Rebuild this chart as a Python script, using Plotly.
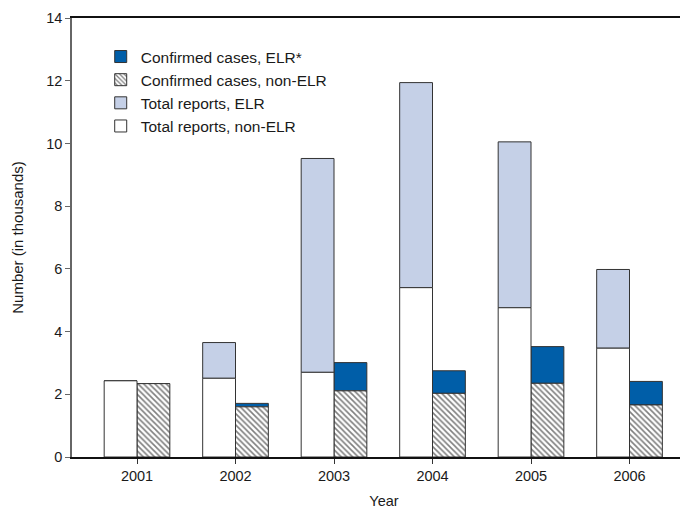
import plotly.graph_objects as go

years = ["2001", "2002", "2003", "2004", "2005", "2006"]
# values in thousands
total_non_elr = [2.43, 2.51, 2.70, 5.40, 4.76, 3.47]
total_elr = [0.00, 1.14, 6.82, 6.54, 5.29, 2.51]
confirmed_non_elr = [2.34, 1.60, 2.11, 2.03, 2.35, 1.66]
confirmed_elr = [0.00, 0.11, 0.90, 0.72, 1.17, 0.75]

idx = list(range(len(years)))
line = dict(color="#333333", width=1)
W = 1 / 3

fig = go.Figure()
fig.add_trace(go.Bar(
    x=idx, y=confirmed_elr, base=confirmed_non_elr, width=W, offset=0,
    name="Confirmed cases, ELR*",
    marker=dict(color="#005EA8", line=line), legendrank=1))
fig.add_trace(go.Bar(
    x=idx, y=confirmed_non_elr, base=[0] * len(idx), width=W, offset=0,
    name="Confirmed cases, non-ELR",
    marker=dict(color="white", line=line,
                pattern=dict(shape="\\", size=4, solidity=0.4,
                             fgcolor="#000000", bgcolor="white")),
    legendrank=2))
fig.add_trace(go.Bar(
    x=idx, y=total_elr, base=total_non_elr, width=W, offset=-W,
    name="Total reports, ELR",
    marker=dict(color="#C5D0E7", line=line), legendrank=3))
fig.add_trace(go.Bar(
    x=idx, y=total_non_elr, base=[0] * len(idx), width=W, offset=-W,
    name="Total reports, non-ELR",
    marker=dict(color="white", line=line), legendrank=4))

font = dict(family="Liberation Sans, Arial, sans-serif", size=14, color="#1a1a1a")

fig.update_layout(
    width=688, height=516,
    margin=dict(l=64, r=0, t=10, b=67, autoexpand=False),
    barmode="overlay",
    paper_bgcolor="white", plot_bgcolor="white",
    font=font,
    showlegend=True,
    legend=dict(x=0.046, y=0.95, xanchor="left", yanchor="top",
                bgcolor="rgba(0,0,0,0)", font=dict(size=15.5),
                tracegroupgap=0, traceorder="normal"),
    xaxis=dict(
        range=[-0.66, 5.675], tickmode="array", tickvals=idx, ticktext=years,
        showline=True, linecolor="#111111", linewidth=1.5, mirror=True,
        ticks="outside", ticklen=5, tickcolor="#333333",
        tickfont=dict(size=14.5),
        showgrid=False, zeroline=False, automargin=False,
        title=dict(text="Year", standoff=13, font=dict(size=14.5))),
    yaxis=dict(
        range=[0, 14], tickvals=[0, 2, 4, 6, 8, 10, 12, 14],
        showline=True, linecolor="#666666", linewidth=1.5,
        ticks="outside", ticklen=5, tickcolor="#666666",
        tickfont=dict(size=14.5),
        showgrid=False, zeroline=False, automargin=False,
        title=dict(text="Number (in thousands)", standoff=19, font=dict(size=15))),
)

fig.write_html("out.html")
